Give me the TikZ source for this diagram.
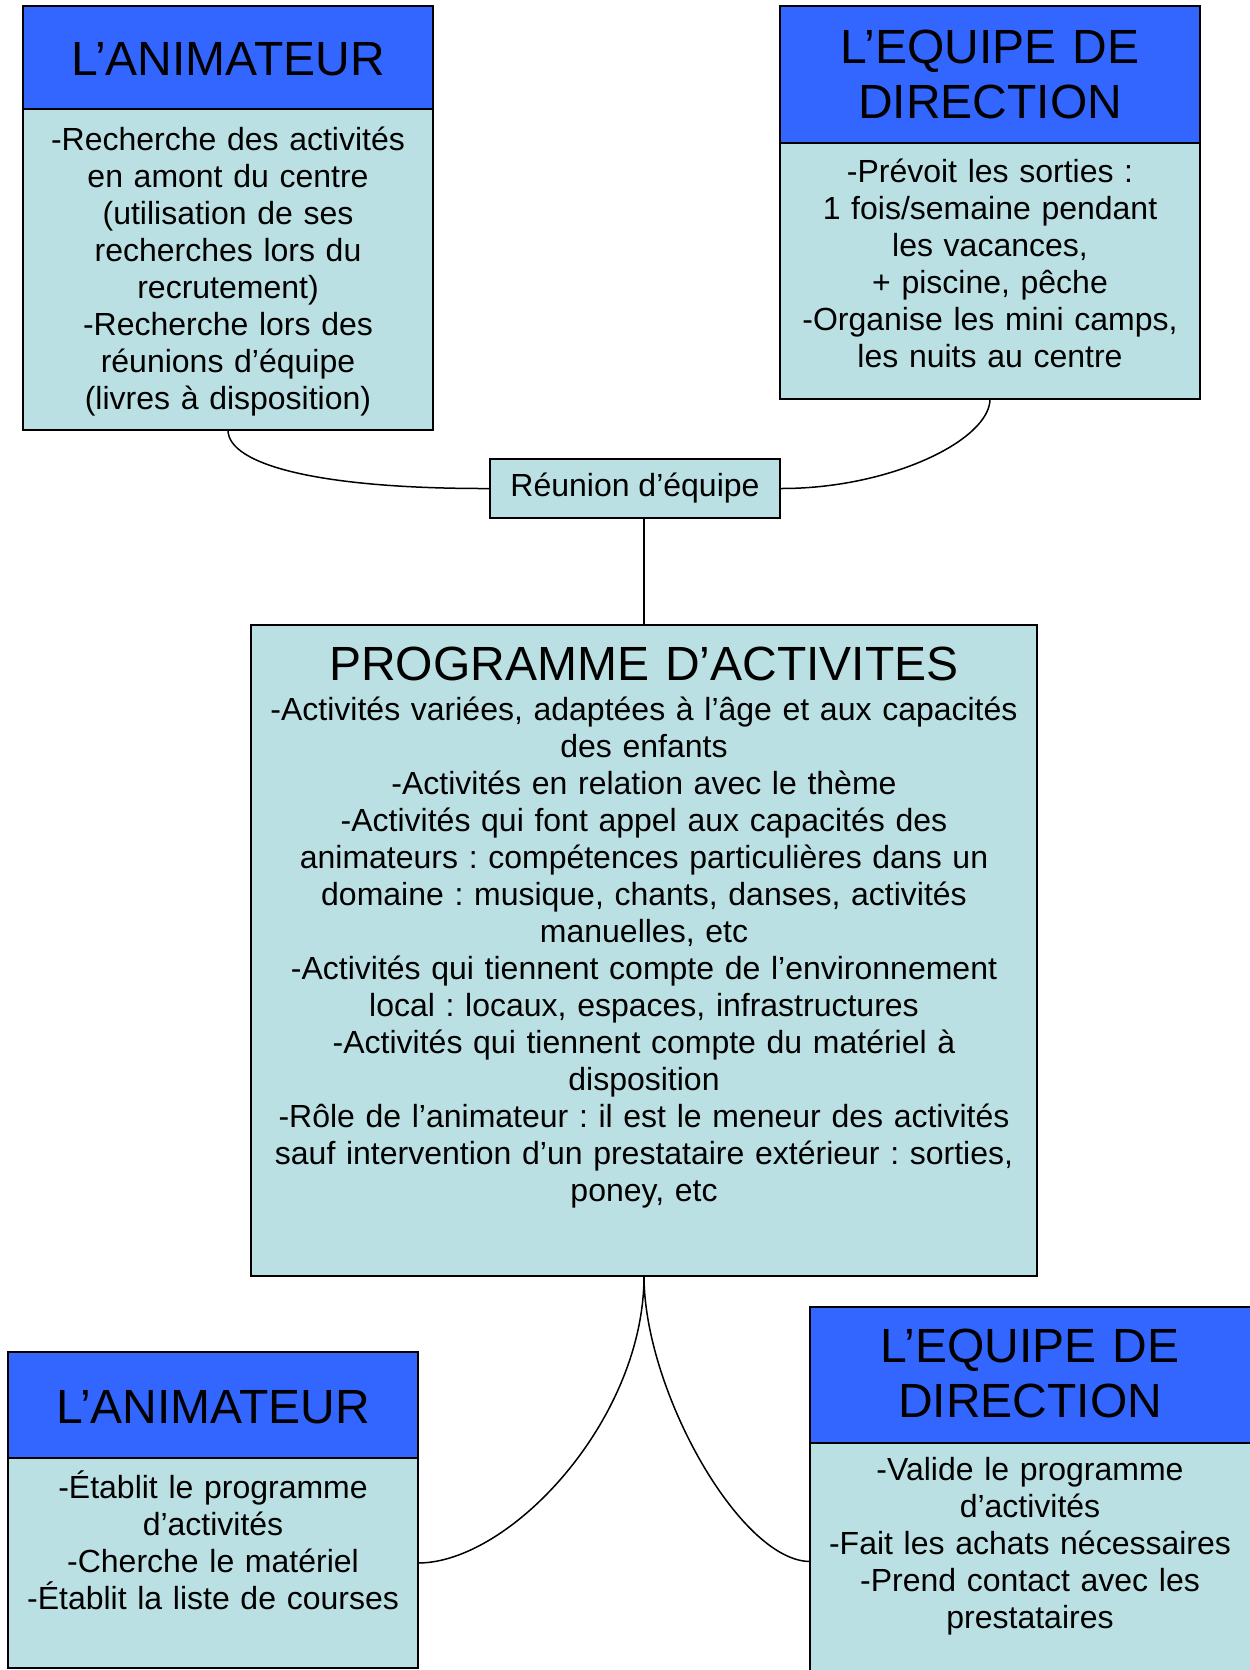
\documentclass[tikz,border=0pt]{standalone}
\usepackage{fontspec}
\setmainfont{Liberation Sans}
\definecolor{hdr}{RGB}{51,102,255}
\definecolor{bdy}{RGB}{187,224,227}
\frenchspacing
\begin{document}
\begin{tikzpicture}[x=0.5pt,y=-0.5pt,
  frame/.style={draw=black,line width=0.8pt,anchor=north west,inner sep=0pt,outer sep=0pt},
  hdrbox/.style={frame,fill=hdr},
  bdybox/.style={frame,fill=bdy},
  hdrtext/.style={anchor=base,inner sep=0pt,align=center,font=\fontsize{24pt}{27.5pt}\selectfont},
  bdytext/.style={anchor=base,inner sep=0pt,align=center,font=\fontsize{16pt}{18.5pt}\selectfont},
  link/.style={draw=black,line width=0.75pt}]
\useasboundingbox (0,0) rectangle (1249,1670);
\fill[white] (0,0) rectangle (1249,1670);

% top left
\node[hdrbox,minimum width=205pt,minimum height=51.5pt] (tlhead) at (23,6) {};
\node[bdybox,minimum width=205pt,minimum height=160.5pt] (tlbody) at (23,109) {};
\node[hdrtext,text width=200pt] (tlheadtxt) at (228,75) {L’ANIMATEUR};
\node[bdytext,text width=200pt] (tlbodytxt) at (228,150) {-Recherche des activités\\en amont du centre\\(utilisation de ses\\recherches lors du\\recrutement)\\-Recherche lors des\\réunions d’équipe\\(livres à disposition)};

% top right
\node[hdrbox,minimum width=210pt,minimum height=68.5pt] (trhead) at (780,6) {};
\node[bdybox,minimum width=210pt,minimum height=128pt] (trbody) at (780,143) {};
\node[hdrtext,text width=205pt] (trheadtxt) at (990,63) {L’EQUIPE DE\\DIRECTION};
\node[bdytext,text width=205pt] (trbodytxt) at (990,182) {-Prévoit les sorties :\\1 fois/semaine pendant\\les vacances,\\+ piscine, pêche\\-Organise les mini camps,\\les nuits au centre};

% reunion
\node[bdybox,minimum width=145pt,minimum height=29.5pt,font=\fontsize{16pt}{18.5pt}\selectfont] (reunion) at (490,459) {Réunion d’équipe};

% programme
\node[bdybox,minimum width=393pt,minimum height=325.5pt] (prog) at (251,625) {};
\node[hdrtext,text width=390pt] (progtitle) at (644,680) {PROGRAMME D’ACTIVITES};
\node[bdytext,text width=390pt] (progtxt) at (644,720) {-Activités variées, adaptées à l’âge et aux capacités\\des enfants\\-Activités en relation avec le thème\\-Activités qui font appel aux capacités des\\animateurs : compétences particulières dans un\\domaine : musique, chants, danses, activités\\manuelles, etc\\-Activités qui tiennent compte de l’environnement\\local : locaux, espaces, infrastructures\\-Activités qui tiennent compte du matériel à\\disposition\\-Rôle de l’animateur : il est le meneur des activités\\sauf intervention d’un prestataire extérieur : sorties,\\poney, etc};

% bottom left
\node[hdrbox,minimum width=205pt,minimum height=53pt] (blhead) at (8,1352) {};
\node[bdybox,minimum width=205pt,minimum height=105pt] (blbody) at (8,1458) {};
\node[hdrtext,text width=200pt] (blheadtxt) at (213,1423) {L’ANIMATEUR};
\node[bdytext,text width=200pt] (blbodytxt) at (213,1498) {-Établit le programme\\d’activités\\-Cherche le matériel\\-Établit la liste de courses};

% bottom right
\node[hdrbox,minimum width=225pt,minimum height=68pt] (brhead) at (810,1307) {};
\node[bdybox,minimum width=225pt,minimum height=118.5pt] (brbody) at (810,1443) {};
\node[hdrtext,text width=215pt] (brheadtxt) at (1030,1362) {L’EQUIPE DE\\DIRECTION};
\node[bdytext,text width=215pt] (brbodytxt) at (1030,1480) {-Valide le programme\\d’activités\\-Fait les achats nécessaires\\-Prend contact avec les\\prestataires};

% connectors
\draw[link] (tlbody.south) .. controls (228,465) and (320,489) .. (reunion.west);
\draw[link] (trbody.south) .. controls (990,440) and (890,489) .. (reunion.east);
\draw[link] (reunion.south -| prog.north) -- (prog.north);
\draw[link] (prog.south) .. controls (644,1420) and (510,1563) .. (blbody.east);
\draw[link] (prog.south) .. controls (644,1390) and (740,1561) .. (brbody.west);
\end{tikzpicture}
\end{document}
